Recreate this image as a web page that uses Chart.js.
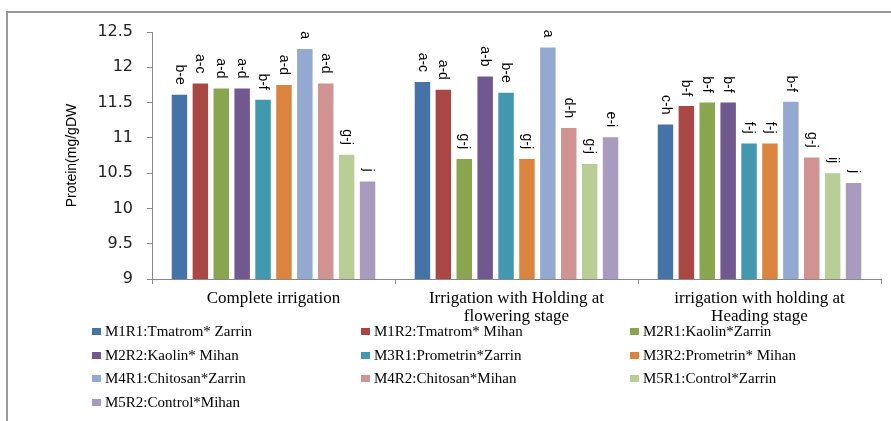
<!DOCTYPE html>
<html>
<head>
<meta charset="utf-8">
<script src="https://cdn.jsdelivr.net/npm/chart.js@4"></script>
<style>
  html, body { margin: 0; padding: 0; background: #fff; }
  #wrap { position: relative; width: 891px; height: 421px; overflow: hidden; }
  #frame { position: absolute; left: 6px; top: 11px; width: 1000px; height: 1000px;
           border-left: 2px solid #999; border-top: 2px solid #999; box-sizing: border-box; }
  #chart { position: absolute; left: 0; top: 0; }
  #legend { position: absolute; left: 0; top: 0; width: 891px; height: 421px; pointer-events: none; }
  .item { position: absolute; font: 15px "Liberation Serif", serif; color: #000; white-space: nowrap;
          transform: translateY(-50%); line-height: 18px; }
  .box { display: inline-block; width: 9px; height: 7px; margin-right: 4px; vertical-align: 1px; }
</style>
</head>
<body>
<div id="wrap">
  <div id="frame"></div>
  <canvas id="chart" width="891" height="421"></canvas>
  <div id="legend"></div>
</div>
<script>
// Irrigation regimes (x-axis groups)
const categories = [
  ['Complete irrigation'],
  ['Irrigation with Holding at', 'flowering stage'],
  ['irrigation with holding at', 'Heading stage']
];

// Treatment series names
const seriesNames = [
  'M1R1:Tmatrom* Zarrin', 'M1R2:Tmatrom* Mihan', 'M2R1:Kaolin*Zarrin',
  'M2R2:Kaolin* Mihan', 'M3R1:Prometrin*Zarrin', 'M3R2:Prometrin* Mihan',
  'M4R1:Chitosan*Zarrin', 'M4R2:Chitosan*Mihan', 'M5R1:Control*Zarrin',
  'M5R2:Control*Mihan'
];

// Protein (mg/gDW) per series, one value per irrigation regime
const m1r1 = [11.61, 11.79, 11.19];
const m1r2 = [11.77, 11.68, 11.45];
const m2r1 = [11.70, 10.70, 11.50];
const m2r2 = [11.70, 11.87, 11.50];
const m3r1 = [11.54, 11.64, 10.92];
const m3r2 = [11.75, 10.70, 10.92];
const m4r1 = [12.26, 12.28, 11.51];
const m4r2 = [11.77, 11.14, 10.72];
const m5r1 = [10.76, 10.63, 10.50];
const m5r2 = [10.38, 11.01, 10.36];

// Mean-separation letters per series
const letters1 = ['b-e', 'a-c', 'c-h'];
const letters2 = ['a-c', 'a-d', 'b-f'];
const letters3 = ['a-d', 'g-j', 'b-f'];
const letters4 = ['a-d', 'a-b', 'b-f'];
const letters5 = ['b-f', 'b-e', 'f-j'];
const letters6 = ['a-d', 'g-j', 'f-j'];
const letters7 = ['a', 'a', 'b-f'];
const letters8 = ['a-d', 'd-h', 'g-j'];
const letters9 = ['g-j', 'g-j', 'ij'];
const letters10 = ['j', 'e-i', 'j'];

// Y-axis range
const yMin = 9, yMax = 12.5, yStep = 0.5;

const colors = ['#4572A7', '#AA4643', '#89A54E', '#71588F', '#4198AF',
                '#DB843D', '#93A9CF', '#D19392', '#B9CD96', '#A99BBD'];

const values = [m1r1, m1r2, m2r1, m2r2, m3r1, m3r2, m4r1, m4r2, m5r1, m5r2];
const letters = [letters1, letters2, letters3, letters4, letters5,
                 letters6, letters7, letters8, letters9, letters10];

const datasets = seriesNames.map((name, i) => ({
  label: name,
  data: values[i],
  letters: letters[i],
  backgroundColor: colors[i],
  borderWidth: 0,
  categoryPercentage: 0.86,
  barPercentage: 0.74
}));

// Rotated significance letters above each bar
const letterPlugin = {
  id: 'letters',
  afterDatasetsDraw(chart) {
    const ctx = chart.ctx;
    ctx.save();
    ctx.font = '14px "Liberation Sans", sans-serif';
    ctx.fillStyle = '#000';
    ctx.textAlign = 'right';
    ctx.textBaseline = 'middle';
    chart.data.datasets.forEach((ds, i) => {
      chart.getDatasetMeta(i).data.forEach((bar, j) => {
        ctx.save();
        ctx.translate(bar.x, bar.y - 10);
        ctx.rotate(Math.PI / 2);
        ctx.fillText(ds.letters[j], 0, 0);
        ctx.restore();
      });
    });
    ctx.restore();
  }
};

const chart = new Chart(document.getElementById('chart'), {
  type: 'bar',
  data: { labels: categories, datasets },
  options: {
    responsive: false,
    animation: false,
    layout: { padding: { top: 32, right: 10, left: 0, bottom: 0 } },
    plugins: { legend: { display: false }, tooltip: { enabled: false } },
    scales: {
      x: {
        grid: { display: true, drawOnChartArea: false, offset: true, tickLength: 5, color: '#888' },
        border: { color: '#888' },
        ticks: { color: '#000', font: { family: '"Liberation Serif", serif', size: 17, lineHeight: 1.08 },
                 padding: 5, maxRotation: 0 },
        afterFit(s) { s.height = 142; }
      },
      y: {
        min: yMin, max: yMax,
        grid: { display: true, drawOnChartArea: false, tickLength: 5, color: '#888' },
        border: { color: '#888' },
        ticks: { stepSize: yStep, color: '#222', font: { family: '"DejaVu Sans", sans-serif', size: 16 }, padding: 14,
                 callback: v => String(v) },
        title: { display: true, text: 'Protein(mg/gDW', color: '#000',
                 font: { family: '"Liberation Sans", sans-serif', size: 14 }, padding: { top: 64, bottom: 0 } },
        afterFit(s) { s.width = 152; }
      }
    }
  },
  plugins: [letterPlugin]
});

// Three-column legend below the plot
const legendCols = [92, 361, 630];
const legendRows = [331, 355, 378, 402];
const legendEl = document.getElementById('legend');
chart.data.datasets.forEach((ds, i) => {
  const item = document.createElement('div');
  item.className = 'item';
  item.style.left = legendCols[i % 3] + 'px';
  item.style.top = legendRows[Math.floor(i / 3)] + 'px';
  const box = document.createElement('span');
  box.className = 'box';
  box.style.background = ds.backgroundColor;
  item.appendChild(box);
  item.appendChild(document.createTextNode(ds.label));
  legendEl.appendChild(item);
});
</script>
</body>
</html>
